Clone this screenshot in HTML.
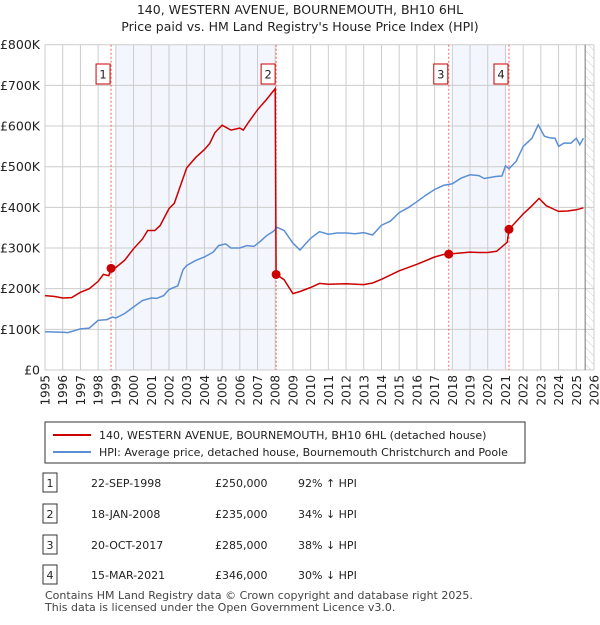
<!DOCTYPE html>
<html><head><meta charset="utf-8"><style>
body{margin:0;background:#fff;font-family:"Liberation Sans","DejaVu Sans",sans-serif;}
svg text{font-family:"DejaVu Sans","Liberation Sans",sans-serif;}
</style></head><body>
<svg id="c" width="600" height="620" viewBox="0 0 600 620" xmlns="http://www.w3.org/2000/svg">
<defs><pattern id="hatch" width="6" height="6" patternUnits="userSpaceOnUse" patternTransform="rotate(-45)"><line x1="0" y1="0" x2="0" y2="6" stroke="#ccc" stroke-width="1"/></pattern></defs>
<text x="300" y="14" text-anchor="middle" font-size="12.5" fill="#222">140, WESTERN AVENUE, BOURNEMOUTH, BH10 6HL</text>
<text x="300" y="31" text-anchor="middle" font-size="12.5" fill="#222">Price paid vs. HM Land Registry's House Price Index (HPI)</text>
<g id="plot"></g>
<rect x="45" y="422" width="480" height="41" fill="#fff" stroke="#333"/>
<line x1="53" y1="435" x2="91" y2="435" stroke="#cc0000" stroke-width="2"/>
<text x="99" y="439" font-size="11" fill="#222">140, WESTERN AVENUE, BOURNEMOUTH, BH10 6HL (detached house)</text>
<line x1="53" y1="452" x2="91" y2="452" stroke="#5b8fd4" stroke-width="2"/>
<text x="99" y="456" font-size="11" fill="#222">HPI: Average price, detached house, Bournemouth Christchurch and Poole</text>
<g id="table"></g>
<text x="45" y="599" font-size="11" fill="#444">Contains HM Land Registry data © Crown copyright and database right 2025.</text>
<text x="45" y="611" font-size="11" fill="#444">This data is licensed under the Open Government Licence v3.0.</text>
</svg>
<script>
const yearTicks=[1995,1996,1997,1998,1999,2000,2001,2002,2003,2004,2005,2006,2007,2008,2009,2010,2011,2012,2013,2014,2015,2016,2017,2018,2019,2020,2021,2022,2023,2024,2025,2026];
const valueTicks=[0,100000,200000,300000,400000,500000,600000,700000,800000];
const valueTickLabels=["£0","£100K","£200K","£300K","£400K","£500K","£600K","£700K","£800K"];
const redYears=[1995,1995.5,1996,1996.5,1997,1997.5,1998,1998.3,1998.6,1998.73,1999,1999.5,2000,2000.5,2000.8,2001.2,2001.5,2002,2002.3,2002.7,2003,2003.5,2004,2004.3,2004.6,2005,2005.5,2006,2006.2,2006.5,2007,2007.5,2008,2008.05,2008.5,2009,2009.4,2010,2010.5,2011,2012,2013,2013.5,2014,2015,2016,2017,2017.5,2017.8,2018,2019,2019.5,2020,2020.5,2021.1,2021.2,2021.5,2022,2022.5,2022.9,2023.3,2023.7,2024,2024.5,2025,2025.4];
const redValues=[183000,181000,177000,178000,191000,200000,218000,235000,232000,250000,252000,270000,298000,322000,343000,343000,355000,397000,410000,460000,497000,522000,542000,557000,584000,602000,590000,595000,590000,610000,640000,665000,692000,235000,222000,188000,193000,203000,213000,211000,212000,210000,214000,223000,244000,260000,278000,284000,285000,286000,290000,289000,289000,292000,314000,346000,360000,384000,404000,422000,404000,396000,390000,391000,394000,399000];
const blueYears=[1995,1996,1996.3,1997,1997.5,1998,1998.5,1998.8,1999,1999.5,2000,2000.5,2001,2001.3,2001.7,2002,2002.5,2002.8,2003,2003.5,2004,2004.5,2004.8,2005.2,2005.5,2006,2006.4,2006.8,2007.2,2007.5,2007.9,2008.1,2008.5,2009,2009.4,2010,2010.5,2011,2011.5,2012,2012.5,2013,2013.5,2014,2014.5,2015,2015.5,2016,2016.5,2017,2017.5,2018,2018.5,2019,2019.5,2019.8,2020.5,2020.8,2021,2021.2,2021.6,2022,2022.5,2022.85,2023.2,2023.5,2023.8,2024,2024.3,2024.7,2025,2025.2,2025.4];
const blueValues=[94000,93000,92000,101000,103000,122000,124000,130000,128000,139000,155000,171000,177000,176000,183000,198000,207000,247000,257000,269000,278000,290000,306000,310000,300000,300000,306000,304000,318000,330000,341000,351000,343000,312000,295000,324000,340000,334000,337000,337000,335000,338000,332000,356000,366000,387000,399000,414000,430000,444000,454000,458000,472000,480000,478000,471000,476000,477000,502000,495000,513000,550000,570000,603000,575000,571000,570000,550000,558000,558000,570000,554000,570000];
const saleYears=[1998.73,2008.05,2017.8,2021.2];
const salePrices=[250000,235000,285000,346000];
const saleLabels=["1","2","3","4"];
const shadeRanges=[[1999,2008],[2018,2021]];
const tableDates=["22-SEP-1998","18-JAN-2008","20-OCT-2017","15-MAR-2021"];
const tablePrices=["£250,000","£235,000","£285,000","£346,000"];
const tableHpi=["92% ↑ HPI","34% ↓ HPI","38% ↓ HPI","30% ↓ HPI"];

const X0=45,X1=594,Y0=370,Y1=44.7;
const xs=y=>X0+(y-1995)*(X1-X0)/31;
const ys=v=>Y0-v*(Y0-Y1)/800000;
const NS="http://www.w3.org/2000/svg";
const plot=document.getElementById('plot');
function mk(tag,attrs,parent){const e=document.createElementNS(NS,tag);for(const k in attrs)e.setAttribute(k,attrs[k]);(parent||plot).appendChild(e);return e;}

let bg=mk('rect',{x:X0,y:Y1,width:X1-X0,height:Y0-Y1,fill:'#fff'});


shadeRanges.forEach((r,i)=>{
  const s=mk('rect',{x:xs(r[0]),y:Y1,width:xs(r[1])-xs(r[0]),height:Y0-Y1,fill:'#f3f6fd'});
  
  
});
const h=mk('rect',{x:xs(2025.5),y:Y1,width:X1-xs(2025.5),height:Y0-Y1,fill:'url(#hatch)'});


yearTicks.forEach(y=>{
  const l=mk('line',{x1:xs(y),x2:xs(y),y1:Y1,y2:Y0,stroke:'#ccc','stroke-width':1});
  
  
  const t=mk('text',{x:0,y:0,'font-size':12,fill:'#222','text-anchor':'end',transform:`translate(${xs(y)+4.5},375) rotate(-90)`});
  t.textContent=y;
  
  
});
valueTicks.forEach((v,i)=>{
  const l=mk('line',{x1:X0,x2:X1,y1:ys(v),y2:ys(v),stroke:'#ccc','stroke-width':1});
  
  
  const t=mk('text',{x:40,y:ys(v)+4.5,'font-size':12.5,fill:'#222','text-anchor':'end'});
  t.textContent=valueTickLabels[i];
  
  
});
const vl=mk('line',{x1:xs(2025.5),x2:xs(2025.5),y1:Y1,y2:Y0,stroke:'#777','stroke-width':1});


saleYears.forEach((y,i)=>{
  const l=mk('line',{x1:xs(y),x2:xs(y),y1:Y1,y2:Y0,stroke:'#f06060','stroke-width':1,'stroke-dasharray':'2,2'});
  
  
});
const pts=(a,b)=>a.map((y,i)=>xs(y).toFixed(1)+','+ys(b[i]).toFixed(1)).join(' ');
const bl=mk('polyline',{points:pts(blueYears,blueValues),fill:'none',stroke:'#5b8fd4','stroke-width':1.5});


const rl=mk('polyline',{points:pts(redYears,redValues),fill:'none',stroke:'#cc0000','stroke-width':1.5});


saleYears.forEach((y,i)=>{
  const c=mk('circle',{cx:xs(y),cy:ys(salePrices[i]),r:4.5,fill:'#cc0000'});
  
  
  const b=mk('rect',{x:xs(y)-15,y:64,width:14,height:20,fill:'#fff',stroke:'#cc0000'});
  
  
  const t=mk('text',{x:xs(y)-8,y:78.5,'font-size':11.5,'text-anchor':'middle',fill:'#222'});
  t.textContent=saleLabels[i];
  
  
});
const tb=document.getElementById('table');
const rowY=[483,514,545,575];
tableDates.forEach((d,i)=>{
  const b=mk('rect',{x:43,y:rowY[i]-10,width:14,height:19,fill:'#fff',stroke:'#333'},tb);
  
  
  const n=mk('text',{x:50,y:rowY[i]+4,'font-size':11,'text-anchor':'middle',fill:'#222'},tb);
  n.textContent=saleLabels[i];
  
  
  const t1=mk('text',{x:91,y:rowY[i]+4,'font-size':11,fill:'#222'},tb);
  t1.textContent=d;
  
  
  const t2=mk('text',{x:215,y:rowY[i]+4,'font-size':11,fill:'#222'},tb);
  t2.textContent=tablePrices[i];
  
  
  const t3=mk('text',{x:298,y:rowY[i]+4,'font-size':11,fill:'#222'},tb);
  t3.textContent=tableHpi[i];
  
  
});
</script>
</body></html>
